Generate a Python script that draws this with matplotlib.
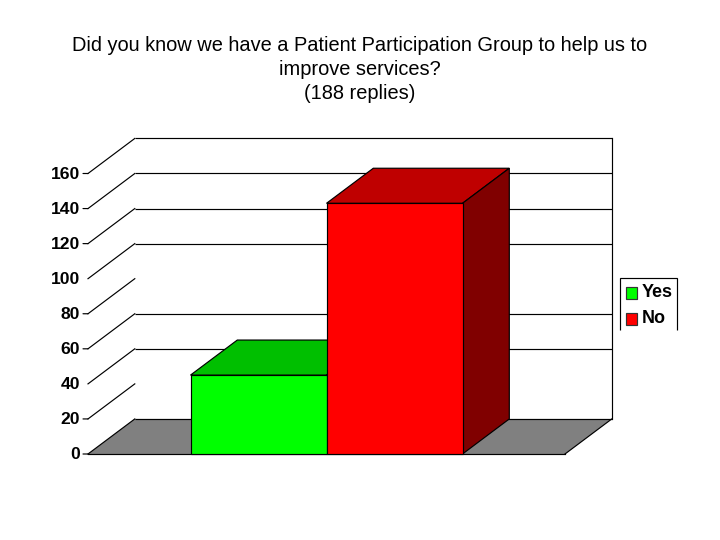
import matplotlib
matplotlib.use("Agg")
import matplotlib.pyplot as plt
from matplotlib.patches import Polygon, Rectangle

plt.rcParams['font.family'] = ['Liberation Sans', 'DejaVu Sans']

categories = ["Yes", "No"]
values = [45, 143]
tick_values = [0, 20, 40, 60, 80, 100, 120, 140, 160]
title = "Did you know we have a Patient Participation Group to help us to\nimprove services?\n(188 replies)"

front_colors = ["#00FF00", "#FF0000"]
top_colors = ["#00BF00", "#BF0000"]
side_colors = ["#008000", "#800000"]

W, H = 720, 540
LW = 0.85
fig = plt.figure(figsize=(7.2, 5.4), dpi=100)

# front plane of the pseudo-3D box
x0, x1, ybot, ytop = 88.0, 565.0, 454.0, 173.5
ax = fig.add_axes([x0 / W, (H - ybot) / H, (x1 - x0) / W, (ybot - ytop) / H])
bar_px = 136.0
left_lim = -(258.5 - x0) / bar_px
ax.set_xlim(left_lim, left_lim + (x1 - x0) / bar_px)
ax.set_ylim(0, 160)
ax.axis("off")
dx = 46.8 / bar_px   # depth offset, x units
dy = 20.0            # depth offset, y units

xl, xr = ax.get_xlim()
ymax = tick_values[-1]

# back wall
ax.add_patch(Polygon([(xl + dx, dy), (xr + dx, dy), (xr + dx, ymax + dy), (xl + dx, ymax + dy)],
                     closed=True, fc="white", ec="none", clip_on=False, zorder=1))
# floor
ax.add_patch(Polygon([(xl, 0), (xr, 0), (xr + dx, dy), (xl + dx, dy)],
                     closed=True, fc="#808080", ec="none", clip_on=False, zorder=1.5))

# back-wall gridlines (the reference shows none at 20 and 80)
for v in tick_values:
    if v in (20, 80):
        continue
    ax.plot([xl + dx, xr + dx], [v + dy, v + dy], color="black", lw=LW, clip_on=False,
            zorder=2, solid_capstyle="butt")

# right edge of back wall and floor
ax.plot([xr + dx, xr + dx], [dy, ymax + dy], color="black", lw=LW, clip_on=False, zorder=2)
ax.plot([xr, xr + dx], [0, dy], color="black", lw=LW, clip_on=False, zorder=2)
ax.plot([xl, xr], [0, 0], color="black", lw=LW, clip_on=False, zorder=2)

# left-wall diagonals and tick marks
for v in tick_values:
    ax.plot([xl, xl + dx], [v, v + dy], color="black", lw=LW, clip_on=False, zorder=2)

ax.set_yticks(tick_values)
ax.set_xticks([])
for v in tick_values:
    ax.annotate(str(v), xy=(xl, v), xytext=(-5.6, -0.7), textcoords="offset points", ha="right",
                va="center", fontsize=12.6, fontweight="bold", annotation_clip=False)
    if v not in (40, 100):
        ax.annotate("", xy=(xl, v), xytext=(-3.6, 0), textcoords="offset points",
                    arrowprops=dict(arrowstyle="-", lw=LW, color="black", shrinkA=0, shrinkB=0),
                    annotation_clip=False)

# bars with top and side faces
for i, (c, v) in enumerate(zip(categories, values)):
    z = 3 + i
    a, b = i - 0.5, i + 0.5
    ax.add_patch(Polygon([(a, v), (b, v), (b + dx, v + dy), (a + dx, v + dy)], closed=True,
                         fc=top_colors[i], ec="black", lw=LW, clip_on=False, zorder=z))
    ax.add_patch(Polygon([(b, 0), (b + dx, dy), (b + dx, v + dy), (b, v)], closed=True,
                         fc=side_colors[i], ec="black", lw=LW, clip_on=False, zorder=z))
    ax.bar(i, v, width=1.0, color=front_colors[i], edgecolor="black", linewidth=LW,
           clip_on=False, zorder=z + 0.5)

# overlay in pixel coordinates for title and legend
ov = fig.add_axes([0, 0, 1, 1], facecolor="none")
ov.set_xlim(0, W)
ov.set_ylim(H, 0)
ov.axis("off")
ov.text(360, 69.5, title, ha="center", va="center", fontsize=14.4, linespacing=1.33)

# legend box, open at the bottom
ov.plot([619.5, 619.5, 677, 677], [330, 277.5, 277.5, 330], color="black", lw=LW,
        solid_joinstyle="miter", solid_capstyle="butt")
for y, c, col in zip([292.5, 318.5], categories, front_colors):
    ov.add_patch(Rectangle((625.5, y - 5.5), 11.5, 11.5, fc=col, ec="#333333", lw=LW))
    ov.text(641.5, y, c, ha="left", va="center", fontsize=13, fontweight="bold")

fig.savefig("out.png", dpi=100, facecolor="white")
